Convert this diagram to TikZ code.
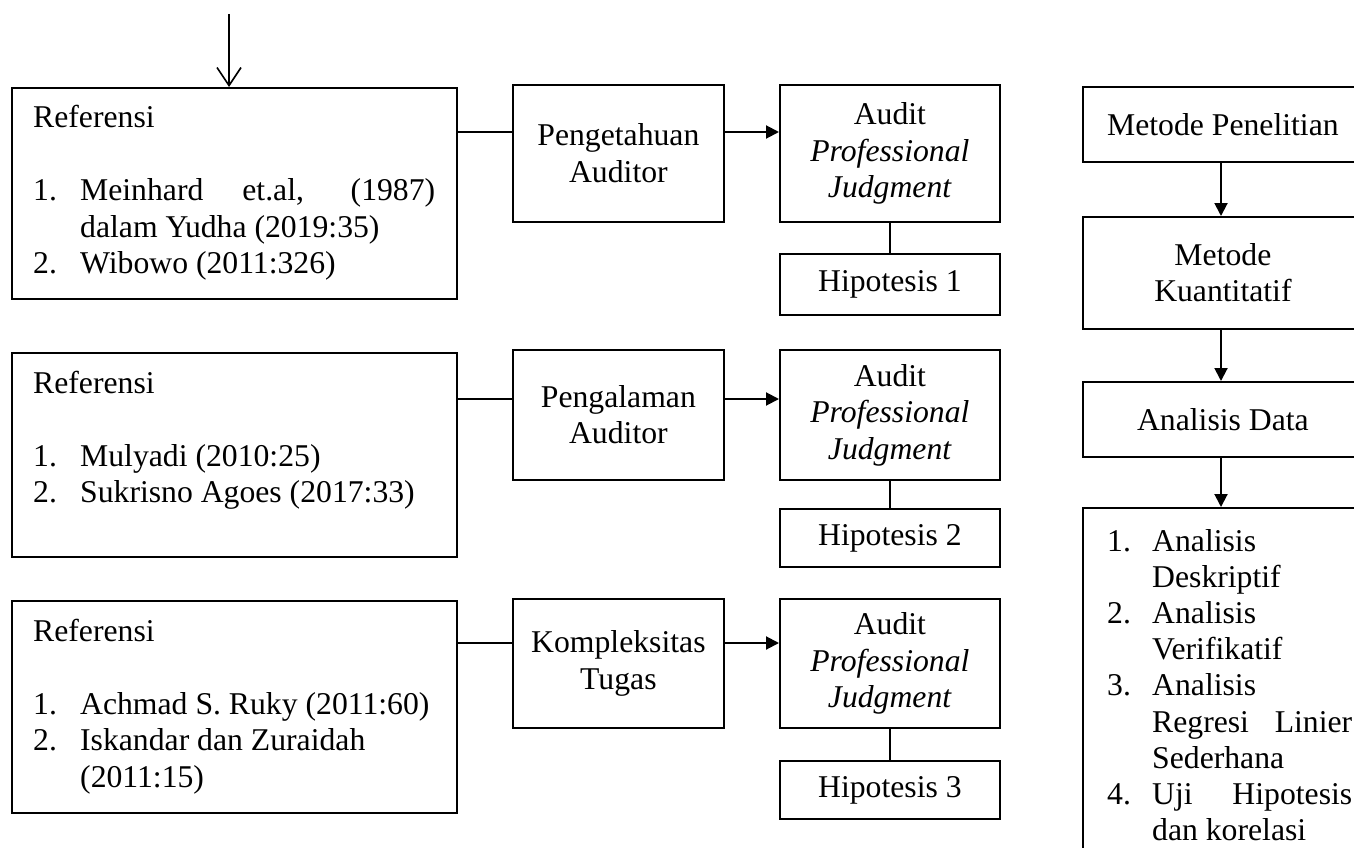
\documentclass[tikz,border=0pt]{standalone}
\usepackage{fontspec}
\setmainfont{Liberation Serif}
\usetikzlibrary{arrows.meta}
\begin{document}
\begin{tikzpicture}[x=1pt,y=-1pt,
  box/.style={draw, line width=1.8pt, inner sep=0pt, align=center, anchor=north west},
  conn/.style={line width=2pt},
  arr/.style={line width=2pt, -{Triangle[length=13pt,width=13pt]}},
  openarr/.style={line width=1.6pt, -{Straight Barb[length=18pt,width=24pt]}},
  txt/.style={inner sep=0pt, anchor=base west, align=left},
  font=\fontsize{31.7}{36.5}\selectfont]
\useasboundingbox (0,0) rectangle (1354,848);
\clip (0,0) rectangle (1354,848);

% ---- row 1 ----
\node[box, minimum width=445pt, minimum height=211pt] (rb1) at (11,87) {};
\node[txt] (rt1) at (33,128) {\parbox[t]{410pt}{Referensi\\[36.5pt]
  \makebox[47pt][l]{1.}\makebox[355pt][s]{Meinhard et.al, (1987)}\\
  \hspace*{47pt}dalam Yudha (2019:35)\\
  \makebox[47pt][l]{2.}Wibowo (2011:326)}};
\node[box, minimum width=211pt, minimum height=137pt] (pb1) at (512,84) {Pengetahuan\\Auditor};
\node[box, minimum width=220pt, minimum height=137pt] (ab1) at (779,84) {Audit\\\textit{Professional}\\\textit{Judgment}};
\node[box, minimum width=220pt, minimum height=61pt] (hb1) at (779,253) {Hipotesis 1};

% ---- row 2 ----
\node[box, minimum width=445pt, minimum height=204pt] (rb2) at (11,352) {};
\node[txt] (rt2) at (33,393) {\parbox[t]{410pt}{Referensi\\[36.5pt]
  \makebox[47pt][l]{1.}Mulyadi (2010:25)\\
  \makebox[47pt][l]{2.}Sukrisno Agoes (2017:33)}};
\node[box, minimum width=211pt, minimum height=130pt] (pb2) at (512,349) {Pengalaman\\Auditor};
\node[box, minimum width=220pt, minimum height=130pt] (ab2) at (779,349) {Audit\\\textit{Professional}\\\textit{Judgment}};
\node[box, minimum width=220pt, minimum height=58pt] (hb2) at (779,508) {Hipotesis 2};

% ---- row 3 ----
\node[box, minimum width=445pt, minimum height=212pt] (rb3) at (11,600) {};
\node[txt] (rt3) at (33,641) {\parbox[t]{410pt}{Referensi\\[36.5pt]
  \makebox[47pt][l]{1.}Achmad S. Ruky (2011:60)\\
  \makebox[47pt][l]{2.}Iskandar dan Zuraidah\\
  \hspace*{47pt}(2011:15)}};
\node[box, minimum width=211pt, minimum height=129pt] (pb3) at (512,598) {Kompleksitas\\Tugas};
\node[box, minimum width=220pt, minimum height=129pt] (ab3) at (779,598) {Audit\\\textit{Professional}\\\textit{Judgment}};
\node[box, minimum width=220pt, minimum height=58pt] (hb3) at (779,760) {Hipotesis 3};

% ---- right column ----
\node[box, minimum width=280pt, minimum height=75pt] (m1) at (1082,86) {Metode Penelitian};
\node[box, minimum width=280pt, minimum height=112pt] (m2) at (1082,216) {Metode\\Kuantitatif};
\node[box, minimum width=280pt, minimum height=75pt] (m3) at (1082,381) {Analisis Data};
\node[box, minimum width=280pt, minimum height=380pt] (m4) at (1082,507) {};
\node[txt] (mt4) at (1107,551) {\parbox[t]{245pt}{\fontsize{31.7}{36.2}\selectfont
  \makebox[45pt][l]{1.}Analisis\\
  \hspace*{45pt}Deskriptif\\
  \makebox[45pt][l]{2.}Analisis\\
  \hspace*{45pt}Verifikatif\\
  \makebox[45pt][l]{3.}Analisis\\
  \hspace*{45pt}\makebox[200pt][s]{Regresi Linier}\\
  \hspace*{45pt}Sederhana\\
  \makebox[45pt][l]{4.}\makebox[200pt][s]{Uji Hipotesis}\\
  \hspace*{45pt}dan korelasi}};

% ---- connectors ----
\coordinate (top) at (229,14);
\draw[openarr] (top) -- (rb1.north -| top);

\coordinate (c1) at (0,132);
\coordinate (c2) at (0,399);
\coordinate (c3) at (0,643);
\draw[conn] (rb1.east |- c1) -- (pb1.west |- c1);
\draw[arr] (pb1.east |- c1) -- (ab1.west |- c1);
\draw[conn] (ab1.south) -- (hb1.north);
\draw[conn] (rb2.east |- c2) -- (pb2.west |- c2);
\draw[arr] (pb2.east |- c2) -- (ab2.west |- c2);
\draw[conn] (ab2.south) -- (hb2.north);
\draw[conn] (rb3.east |- c3) -- (pb3.west |- c3);
\draw[arr] (pb3.east |- c3) -- (ab3.west |- c3);
\draw[conn] (ab3.south) -- (hb3.north);

\coordinate (xr) at (1221,0);
\draw[arr] (m1.south -| xr) -- (m2.north -| xr);
\draw[arr] (m2.south -| xr) -- (m3.north -| xr);
\draw[arr] (m3.south -| xr) -- (m4.north -| xr);
\end{tikzpicture}
\end{document}
